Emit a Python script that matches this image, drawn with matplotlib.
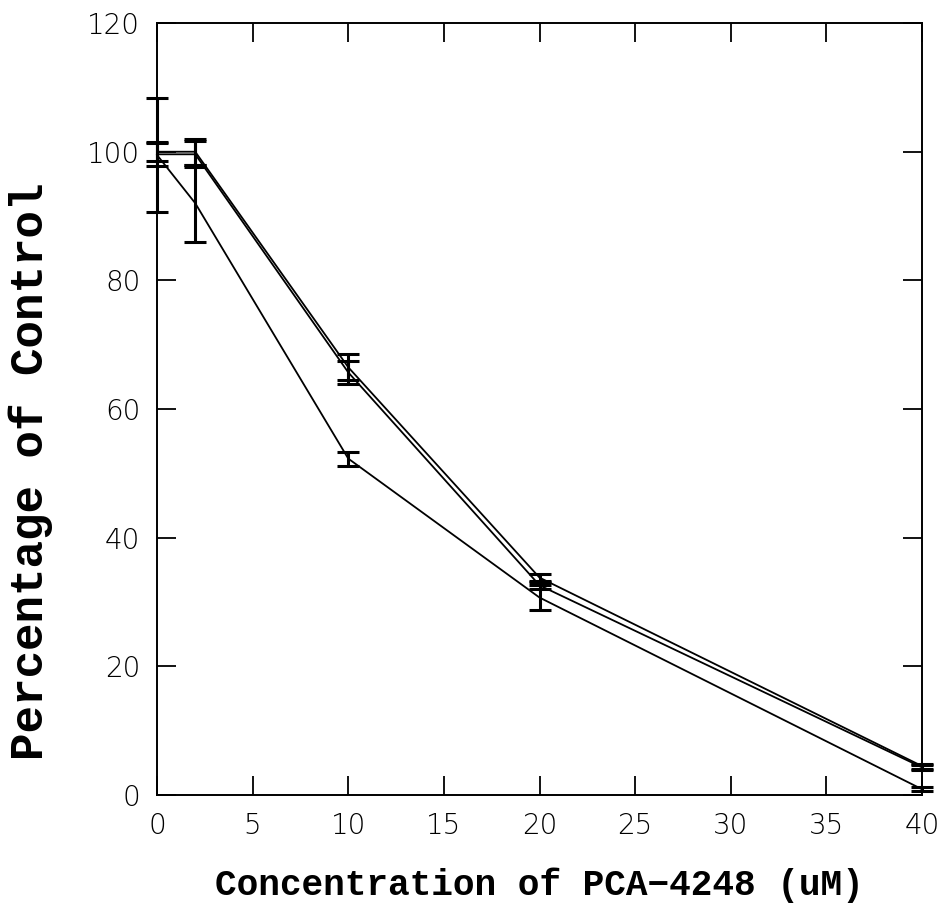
import matplotlib
matplotlib.use("Agg")
import matplotlib.pyplot as plt

conc = [0, 2, 10, 20, 40]
series_a = [100.0, 100.0, 66.5, 33.8, 4.5]
err_a = [1.5, 2.0, 2.0, 0.6, 0.4]
series_b = [99.6, 99.6, 65.7, 32.6, 4.3]
err_b = [1.8, 2.0, 1.8, 0.5, 0.4]
series_c = [99.5, 92.0, 52.3, 30.7, 0.9]
err_c = [8.8, 6.0, 1.1, 2.0, 0.3]

xticks = [0, 5, 10, 15, 20, 25, 30, 35, 40]
yticks = [0, 20, 40, 60, 80, 100, 120]

fig = plt.figure(figsize=(9.48, 9.19), dpi=100)
ax = fig.add_axes([0.1656, 0.1349, 0.807, 0.840])

for y, e in [(series_a, err_a), (series_b, err_b), (series_c, err_c)]:
    ax.errorbar(conc, y, yerr=e, color="black", lw=1.3, elinewidth=2.2,
                capsize=8, capthick=2.2, clip_on=False)

ax.set_xlim(0, 40)
ax.set_ylim(0, 120)
ax.set_xticks(xticks)
ax.set_yticks(yticks)
ax.tick_params(direction="in", length=14, width=1.3, top=True, right=True,
               labelsize=20, pad=12)
for lab in ax.get_xticklabels() + ax.get_yticklabels():
    lab.set_family("DejaVu Sans")
    lab.set_fontweight("light")
for s in ax.spines.values():
    s.set_linewidth(1.4)

ax.set_xlabel("Concentration of PCA\u22124248 (uM)", family="Liberation Mono",
              fontweight="bold", fontsize=26, labelpad=20)
yl = ax.set_ylabel("Percentage of Control", family="Liberation Mono",
                   fontweight="bold", fontsize=33)
yl.set_va("center")
yl.set_ha("center")
ax.yaxis.set_label_coords(-0.165, 0.42)

fig.savefig("out.png", dpi=100)
